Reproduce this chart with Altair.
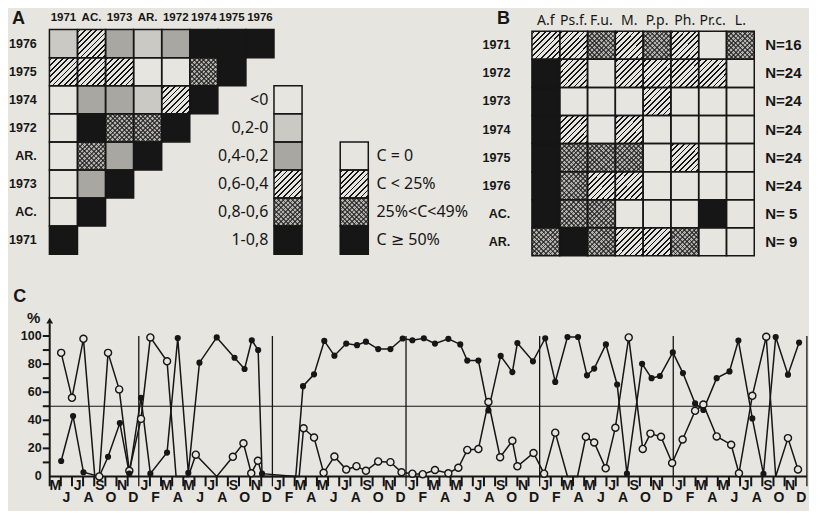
import altair as alt
import pandas as pd

PAPER = "#e7e5df"
INK = "#161616"
COND = "Liberation Sans, Arial, sans-serif"
GEO = "Noto Sans, DejaVu Sans, sans-serif"
BOLD = "Liberation Sans, Arial, sans-serif"

# ---------------- Panel A : correlation matrix ----------------
a_cols = ["1971", "AC.", "1973", "AR.", "1972", "1974", "1975", "1976"]
a_rows = ["1976", "1975", "1974", "1972", "AR.", "1973", "AC.", "1971"]
a_cells = [
    [1, 3, 2, 1, 2, 5, 5, 5],
    [3, 3, 3, 0, 0, 4, 5],
    [0, 2, 2, 1, 3, 5],
    [0, 5, 4, 4, 5],
    [0, 4, 2, 5],
    [0, 2, 5],
    [0, 5],
    [5],
]
a_classes = ["<0", "0,2-0", "0,4-0,2", "0,6-0,4", "0,8-0,6", "1-0,8"]
a_patterns = ["white", "light", "medium", "hatch", "checker", "black"]

# ---------------- Panel B : species x year ----------------
b_cols = ["A.f", "Ps.f.", "F.u.", "M.", "P.p.", "Ph.", "Pr.c.", "L."]
b_rows = ["1971", "1972", "1973", "1974", "1975", "1976", "AC.", "AR."]
b_n = [16, 24, 24, 24, 24, 24, 5, 9]
b_cells = [
    [1, 1, 2, 1, 2, 1, 0, 2],
    [3, 1, 0, 1, 1, 1, 1, 0],
    [3, 0, 0, 0, 1, 0, 0, 0],
    [3, 1, 0, 1, 0, 0, 0, 0],
    [3, 2, 2, 2, 0, 1, 0, 0],
    [3, 2, 1, 1, 0, 0, 0, 0],
    [3, 2, 2, 0, 0, 0, 3, 0],
    [2, 3, 2, 1, 1, 2, 0, 0],
]
b_classes = ["C = 0", "C < 25%", "25%<C<49%", "C \u2265 50%"]
b_patterns = ["white", "hatch", "checker", "black"]

# ---------------- Panel C : time series (month index from May 1971) ----------------
f_t = [1.03, 2.1, 3.03, 4.45, 5.24, 6.3, 7.15, 8.2, 9.04, 10.54, 11.5, 12.45, 13.45, 15.0,
       16.6, 17.5, 18.15, 18.72, 19.07, 22.1, 22.75, 23.74, 24.66, 25.57, 26.63, 27.6, 28.4,
       29.5, 30.6, 31.7, 32.57, 33.6, 34.6, 35.8, 36.87, 37.5, 38.5, 39.4, 40.5, 41.55, 42.0,
       43.4, 44.5, 45.4, 46.5, 47.45, 48.25, 48.9, 49.95, 50.96, 51.84, 53.2, 54.05, 54.8,
       55.96, 56.87, 57.96, 58.7, 59.9, 61.05, 61.85, 63.1, 64.1, 65.2, 66.3, 67.3]
f_v = [11, 43, 3, 0, 14, 38, 2, 56, 2, 17, 98.5, 2.5, 81, 99,
       84.5, 76.5, 97, 90, 2, 0, 64.3, 72.7, 96.5, 86, 94.6, 93.5, 96,
       90.7, 90.7, 98.2, 97, 98.4, 94.6, 98, 94, 82.5, 82.5, 47, 85.8, 74.3, 95,
       82, 98.4, 67.3, 99.3, 99.3, 72, 76.8, 94, 65.5, 2, 80.2, 70, 71.5,
       88.3, 73.6, 52, 47.3, 70, 74.8, 96.8, 41.3, 1.8, 99.3, 72.5, 95.3]
f_m = [1, 1, 1, 0, 1, 1, 1, 1, 1, 1, 1, 1, 1, 1,
       1, 1, 1, 1, 1, 0, 1, 1, 1, 1, 1, 1, 1,
       1, 1, 1, 1, 1, 1, 1, 1, 1, 1, 1, 1, 1, 1,
       1, 1, 1, 1, 1, 1, 1, 1, 1, 1, 1, 1, 1,
       1, 1, 1, 1, 1, 1, 1, 1, 1, 1, 1, 1]

o_t = [1.03, 2.0, 3.03, 4.05, 4.45, 5.24, 6.24, 7.15, 8.2, 9.04, 10.54, 11.35, 12.45, 13.12,
       15.0, 16.45, 17.4, 18.1, 18.7, 19.1, 22.4, 22.8, 23.74, 24.6, 25.57, 26.63, 27.55,
       28.4, 29.5, 30.6, 31.6, 32.57, 33.5, 34.6, 35.8, 36.7, 37.5, 38.5, 39.4, 40.45, 41.55,
       42.0, 43.45, 44.4, 45.4, 46.5, 47.4, 48.15, 48.9, 49.93, 50.8, 52.0, 53.26, 53.95,
       54.9, 55.9, 56.84, 57.96, 58.7, 59.9, 61.2, 61.9, 63.1, 64.35, 65.2, 66.3, 67.2]
o_v = [88, 56, 98, 0, 0, 88, 62, 4, 41, 99, 82, 0, 0, 15.5,
       0, 14, 23.6, 2.3, 11.2, 0, 0, 34.3, 27.7, 2.6, 14.2, 4.9, 7.3,
       4, 10.7, 10.2, 3, 2, 1.6, 4.6, 2.3, 6.2, 18.9, 19.5, 53, 13.7, 25.4,
       7.2, 16.7, 2, 31.2, 0, 0, 28.2, 24.2, 5.8, 34.7, 99, 19.6, 30.5,
       28.2, 9.6, 26.3, 46.7, 51.2, 28.5, 22.6, 2.3, 57.4, 99.5, 0, 27.3, 5]
o_m = [1, 1, 1, 0, 1, 1, 1, 1, 1, 1, 1, 0, 0, 1,
       0, 1, 1, 1, 1, 0, 0, 1, 1, 1, 1, 1, 1,
       1, 1, 1, 1, 1, 1, 1, 1, 1, 1, 1, 1, 1, 1,
       1, 1, 1, 1, 0, 0, 1, 1, 1, 1, 1, 1, 1,
       1, 1, 1, 1, 1, 1, 1, 1, 1, 1, 0, 1, 1]

month_letters = "JFMAMJJASOND"
n_months = 68
first_month = 5          # May 1971
year_ends = [8, 20, 32, 44, 56, 68]
y_ticks = list(range(10, 101, 10))
y_labels = [0, 20, 40, 60, 80, 100]

# ---------------- helpers ----------------
def stripes(n, frac, dark, light, direction):
    stops = [{"offset": 0, "color": light}]
    for i in range(n):
        c = (i + 0.5) / n
        a = round(c - frac / (2 * n), 4)
        b = round(c + frac / (2 * n), 4)
        stops += [{"offset": a, "color": light}, {"offset": a, "color": dark},
                  {"offset": b, "color": dark}, {"offset": b, "color": light}]
    stops.append({"offset": 1, "color": light})
    if direction == "/":
        return {"gradient": "linear", "x1": 0, "y1": 0, "x2": 1, "y2": 1, "stops": stops}
    return {"gradient": "linear", "x1": 1, "y1": 0, "x2": 0, "y2": 1, "stops": stops}

# ---------------- top row (A, legends, B) ----------------
BX0, BW, BY0 = 17.19, 0.99, 0.06
rects = []
for i, row in enumerate(a_cells):
    for j, k in enumerate(row):
        rects.append(dict(x=j, x2=j + 1, y=i, y2=i + 1, pat=a_patterns[k]))
for k, p in enumerate(a_patterns):
    rects.append(dict(x=8.0, x2=9.0, y=2 + k, y2=3 + k, pat=p))
for k, p in enumerate(b_patterns):
    rects.append(dict(x=10.36, x2=11.36, y=4 + k, y2=5 + k, pat=p))
for i, row in enumerate(b_cells):
    for j, k in enumerate(row):
        rects.append(dict(x=BX0 + j * BW, x2=BX0 + (j + 1) * BW, y=BY0 + i, y2=BY0 + i + 1,
                          pat=b_patterns[k]))
rdf = pd.DataFrame(rects)

xs = alt.Scale(domain=[-1.44, 27.06], nice=False, zero=False)
ys = alt.Scale(domain=[-0.77, 8.03], nice=False, zero=False, reverse=True)

def rect_enc(ch):
    return ch.encode(x=alt.X("x:Q", scale=xs, axis=None), x2="x2",
                     y=alt.Y("y:Q", scale=ys, axis=None), y2="y2")

pat_dom = ["white", "light", "medium", "hatch", "checker", "black"]
pat_rng = [PAPER, "#cbc9c3", "#a9a7a2", PAPER, "#b4b2ad", INK]
base = alt.Chart(rdf).mark_rect(strokeWidth=0).encode(
    x=alt.X("x:Q", scale=xs, axis=None), x2="x2",
    y=alt.Y("y:Q", scale=ys, axis=None), y2="y2",
    fill=alt.Fill("pat:N", scale=alt.Scale(domain=pat_dom, range=pat_rng), legend=None))
hatch = rect_enc(alt.Chart(rdf).transform_filter(alt.datum.pat == "hatch").mark_rect(
    fill=stripes(10, 0.32, INK, PAPER, "/"), strokeWidth=0))
chk1 = rect_enc(alt.Chart(rdf).transform_filter(alt.datum.pat == "checker").mark_rect(
    fill=stripes(12, 0.4, "rgba(20,20,20,0.65)", "rgba(0,0,0,0)", "/"), strokeWidth=0))
chk2 = rect_enc(alt.Chart(rdf).transform_filter(alt.datum.pat == "checker").mark_rect(
    fill=stripes(12, 0.4, "rgba(20,20,20,0.65)", "rgba(0,0,0,0)", "\\"), strokeWidth=0))
border = rect_enc(alt.Chart(rdf).mark_rect(fillOpacity=0, stroke=INK, strokeWidth=1.5))

def txt(df, **mk):
    return alt.Chart(df).mark_text(color=INK, **mk).encode(
        x=alt.X("x:Q", scale=xs, axis=None), y=alt.Y("y:Q", scale=ys, axis=None), text="t:N")

t_letters = pd.DataFrame({"x": [-1.105, 16.18], "y": [-0.39, -0.39], "t": ["A", "B"]})
t_ahead = pd.DataFrame({"x": [j + 0.5 for j in range(8)], "y": [-0.42] * 8, "t": a_cols})
t_arow = pd.DataFrame({"x": [-0.45] * 8, "y": [i + 0.5 for i in range(8)], "t": a_rows})
t_alg = pd.DataFrame({"x": [7.8] * 6, "y": [2.5 + k for k in range(6)], "t": a_classes})
t_blg = pd.DataFrame({"x": [11.65] * 4, "y": [4.5 + k for k in range(4)], "t": b_classes})
t_bhead = pd.DataFrame({"x": [BX0 + (j + 0.5) * BW for j in range(8)], "y": [-0.3] * 8, "t": b_cols})
t_brow = pd.DataFrame({"x": [16.42] * 8, "y": [BY0 + i + 0.5 for i in range(8)], "t": b_rows})
t_bn = pd.DataFrame({"x": [25.5] * 8, "y": [BY0 + i + 0.5 for i in range(8)],
                     "t": ["N=%2d" % n if n >= 10 else "N= %d" % n for n in b_n]})

top = alt.layer(
    base, hatch, chk1, chk2, border,
    txt(t_letters, font=BOLD, fontWeight="bold", fontSize=18, align="center", baseline="middle"),
    txt(t_ahead, font=COND, fontWeight="bold", fontSize=11.5, align="center", baseline="middle"),
    txt(t_arow, font=COND, fontWeight="bold", fontSize=12.5, align="right", baseline="middle"),
    txt(t_alg, font=GEO, fontSize=16, align="right", baseline="middle"),
    txt(t_blg, font=GEO, fontSize=16, align="left", baseline="middle"),
    txt(t_bhead, font=GEO, fontSize=14, align="center", baseline="middle"),
    txt(t_brow, font=COND, fontWeight="bold", fontSize=12.5, align="right", baseline="middle"),
    txt(t_bn, font=BOLD, fontWeight="bold", fontSize=15, align="left", baseline="middle"),
).properties(width=800, height=247)

# ---------------- bottom (C) ----------------
xc = alt.Scale(domain=[-3.655, 68.19], nice=False, zero=False)
yc = alt.Scale(domain=[-24.6, 134.9], nice=False, zero=False)
X = lambda f: alt.X(f, scale=xc, axis=None)
Y = lambda f: alt.Y(f, scale=yc, axis=None)

def rules(df, width):
    return alt.Chart(df).mark_rule(color=INK, strokeWidth=width).encode(
        x=X("x:Q"), x2="x2", y=Y("y:Q"), y2="y2")

r_h50 = rules(pd.DataFrame({"x": [0], "x2": [n_months], "y": [50], "y2": [50]}), 1.2)
r_years = rules(pd.DataFrame({"x": year_ends, "x2": year_ends, "y": [-7] * 6, "y2": [100] * 6}), 1.3)
r_xaxis = rules(pd.DataFrame({"x": [0], "x2": [n_months], "y": [0], "y2": [0]}), 2)
r_yaxis = rules(pd.DataFrame({"x": [0], "x2": [0], "y": [-7], "y2": [109]}), 2)
mt = [m for m in range(1, n_months) if m not in year_ends]
r_xt = rules(pd.DataFrame({"x": mt, "x2": mt, "y": [-7] * len(mt), "y2": [0] * len(mt)}), 2)
r_yt = rules(pd.DataFrame({"x": [-0.62] * len(y_ticks), "x2": [0] * len(y_ticks),
                           "y": y_ticks, "y2": y_ticks}), 2)
arrow = alt.Chart(pd.DataFrame({"x": [0], "y": [111]})).mark_point(
    shape="triangle-up", filled=True, color=INK, size=45, opacity=1).encode(x=X("x:Q"), y=Y("y:Q"))

def ctxt(df, **mk):
    return alt.Chart(df).mark_text(color=INK, **mk).encode(x=X("x:Q"), y=Y("y:Q"), text="t:N")

ylab = pd.DataFrame({"x": [-0.72] * len(y_labels), "y": y_labels, "t": [str(v) for v in y_labels]})
mrows = []
for m in range(1, n_months + 1):
    mon = (m - 1 + first_month - 1) % 12
    mrows.append({"x": m - 0.5, "y": -6.8 if m % 2 == 1 else -15.6, "t": month_letters[mon]})
mlab = pd.DataFrame(mrows)
clab = pd.DataFrame({"x": [-2.69, -1.45], "y": [128, 112.6], "t": ["C", "%"]})

fdf = pd.DataFrame({"t": f_t, "v": f_v, "m": f_m})
odf = pd.DataFrame({"t": o_t, "v": o_v, "m": o_m})
line_f = alt.Chart(fdf).mark_line(color=INK, strokeWidth=1.5).encode(x=X("t:Q"), y=Y("v:Q"))
line_o = alt.Chart(odf).mark_line(color=INK, strokeWidth=1.5).encode(x=X("t:Q"), y=Y("v:Q"))
pts_o = alt.Chart(odf).transform_filter(alt.datum.m == 1).mark_point(
    shape="circle", filled=True, fill=PAPER, stroke=INK, strokeWidth=1.4, size=50, opacity=1
).encode(x=X("t:Q"), y=Y("v:Q"))
pts_f = alt.Chart(fdf).transform_filter(alt.datum.m == 1).mark_circle(
    color=INK, size=38, opacity=1).encode(x=X("t:Q"), y=Y("v:Q"))

bottom = alt.layer(
    r_h50, r_years, r_xaxis, r_yaxis, r_xt, r_yt, arrow,
    ctxt(ylab, font=COND, fontWeight="bold", fontSize=12.5, align="right", baseline="middle"),
    ctxt(mlab, font=BOLD, fontWeight="bold", fontSize=14, align="center", baseline="middle"),
    ctxt(clab.iloc[:1], font=BOLD, fontWeight="bold", fontSize=18, align="center", baseline="middle"),
    ctxt(clab.iloc[1:], font=BOLD, fontWeight="bold", fontSize=15, align="center", baseline="middle"),
    line_f, line_o, pts_o, pts_f,
).properties(width=800, height=224)

chart = alt.vconcat(top, bottom, spacing=32, bounds="flush").properties(
    background=PAPER, padding=0
).configure_view(stroke=None)

chart.save("out.html", embed_options={"renderer": "svg", "actions": False})
